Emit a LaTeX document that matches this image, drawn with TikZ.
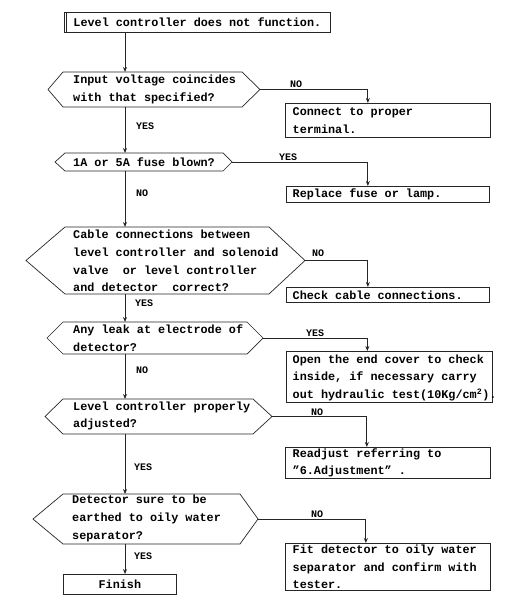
\documentclass[tikz,border=0pt]{standalone}
\usepackage{fontspec}
\setmainfont{Liberation Mono}
\usetikzlibrary{arrows.meta}
\newcommand\hexshape[7]{%
  \pgfmathsetmacro\hm{(#6+#7)/2}
  \coordinate (#1-l) at (#2,\hm);
  \coordinate (#1-r) at (#5,\hm);
  \coordinate (#1-t) at (125,#6);
  \coordinate (#1-b) at (125,#7);
  \draw[shapeline] (#2,\hm) -- (#3,#6) -- (#4,#6) -- (#5,\hm) -- (#4,#7) -- (#3,#7) -- cycle;
}
\begin{document}
\begin{tikzpicture}[x=1pt,y=-1pt,
  txt/.style={font=\fontsize{11.8}{17.6}\selectfont\bfseries, inner sep=0pt, align=left},
  shapeline/.style={line width=0.7pt, draw=black!85},
  box/.style={draw=black!85, line width=0.7pt, rectangle, inner sep=0pt},
  arr/.style={line width=0.9pt, draw=black!85, -{Stealth[length=5pt,width=4pt]}},
  lbl/.style={font=\fontsize{10}{12}\selectfont\bfseries, inner sep=0pt}]
\useasboundingbox (0,0) rectangle (510,601);

% start box
\node[box, txt, anchor=north west, minimum width=266pt, minimum height=20pt, align=center] (start) at (64,12) {Level controller does not function.};
\draw[line width=0.7pt, draw=black!85] ([xshift=2.5pt]start.north west) -- ([xshift=2.5pt]start.south west);

% decisions
\hexshape{h1}{48}{63}{242}{260}{72}{107}
\node[txt, anchor=west] (t1) at (73,89.5) {Input voltage coincides\\with that specified?};

\hexshape{h2}{55}{65}{223}{232}{153}{171}
\node[txt, anchor=west] (t2) at (73,162) {1A or 5A fuse blown?};

\hexshape{h3}{26}{65}{269}{305}{227}{294}
\node[txt, anchor=west] (t3) at (73,261) {Cable connections between\\level controller and solenoid\\valve\ \ or level controller\\and detector\ \ correct?};

\hexshape{h4}{47}{63}{247}{263}{322}{354}
\node[txt, anchor=west] (t4) at (73,338) {Any leak at electrode of\\detector?};

\hexshape{h5}{45}{63}{253}{272}{399}{434}
\node[txt, anchor=west] (t5) at (73,416) {Level controller properly\\adjusted?};

\hexshape{h6}{33}{63}{240}{258}{494}{544}
\node[txt, anchor=west] (t6) at (72,518.5) {Detector sure to be\\earthed to oily water\\separator?};

% action boxes
\node[box, anchor=north west, minimum width=205pt, minimum height=34pt] (b1) at (285,103) {};
\node[txt, anchor=west] (b1t) at ([xshift=7.5pt]b1.west) {Connect to proper\\terminal.};
\node[box, anchor=north west, minimum width=203pt, minimum height=16pt] (b2) at (286,186) {};
\node[txt, anchor=west] (b2t) at ([xshift=6.5pt]b2.west) {Replace fuse or lamp.};
\node[box, anchor=north west, minimum width=203pt, minimum height=15pt] (b3) at (286,287) {};
\node[txt, anchor=west] (b3t) at ([xshift=6.5pt]b3.west) {Check cable connections.};
\node[box, anchor=north west, minimum width=206pt, minimum height=51pt] (b4) at (286,351) {};
\node[txt, anchor=west] (b4t) at ([xshift=6.5pt,yshift=-1pt]b4.west) {Open the end cover to check\\inside, if necessary carry\\out hydraulic test(10Kg/cm\textsuperscript{2}).};
\node[box, anchor=north west, minimum width=205pt, minimum height=31pt] (b5) at (285,447) {};
\node[txt, anchor=west] (b5t) at ([xshift=7.5pt]b5.west) {Readjust referring to\\\symbol{34}6.Adjustment\symbol{34} .};
\node[box, anchor=north west, minimum width=205pt, minimum height=47pt] (b6) at (285,543) {};
\node[txt, anchor=west] (b6t) at ([xshift=7.5pt]b6.west) {Fit detector to oily water\\separator and confirm with\\tester.};
\node[box, txt, anchor=north west, minimum width=113pt, minimum height=20pt, align=center] (fin) at (63,574) {Finish};

% main flow
\draw[arr] (start.south -| h1-t) -- (h1-t);
\draw[arr] (h1-b) -- (h2-t);
\draw[arr] (h2-b) -- (h3-t);
\draw[arr] (h3-b) -- (h4-t);
\draw[arr] (h4-b) -- (h5-t);
\draw[arr] (h5-b) -- (h6-t);
\draw[arr] (h6-b) -- (fin.north -| h6-b);

% branches
\draw[arr] (h1-r) -| ([xshift=-20pt]b1.north);
\draw[arr] (h2-r) -| ([xshift=-20pt]b2.north);
\draw[arr] (h3-r) -| ([xshift=-20pt]b3.north);
\draw[arr] (h4-r) -| ([xshift=-22pt]b4.north);
\draw[arr] (h5-r) -| ([xshift=-21pt]b5.north);
\draw[arr] (h6-r) -| ([xshift=-22pt]b6.north);

% labels
\node[lbl] (l1n) at (296,84) {NO};
\node[lbl] (l1y) at (145,126) {YES};
\node[lbl] (l2y) at (288,157) {YES};
\node[lbl] (l2n) at (142,193) {NO};
\node[lbl] (l3n) at (318,253) {NO};
\node[lbl] (l3y) at (144,303) {YES};
\node[lbl] (l4y) at (315,333) {YES};
\node[lbl] (l4n) at (142,370) {NO};
\node[lbl] (l5n) at (317,412) {NO};
\node[lbl] (l5y) at (143,467) {YES};
\node[lbl] (l6n) at (317,514) {NO};
\node[lbl] (l6y) at (143,556) {YES};
\end{tikzpicture}
\end{document}
